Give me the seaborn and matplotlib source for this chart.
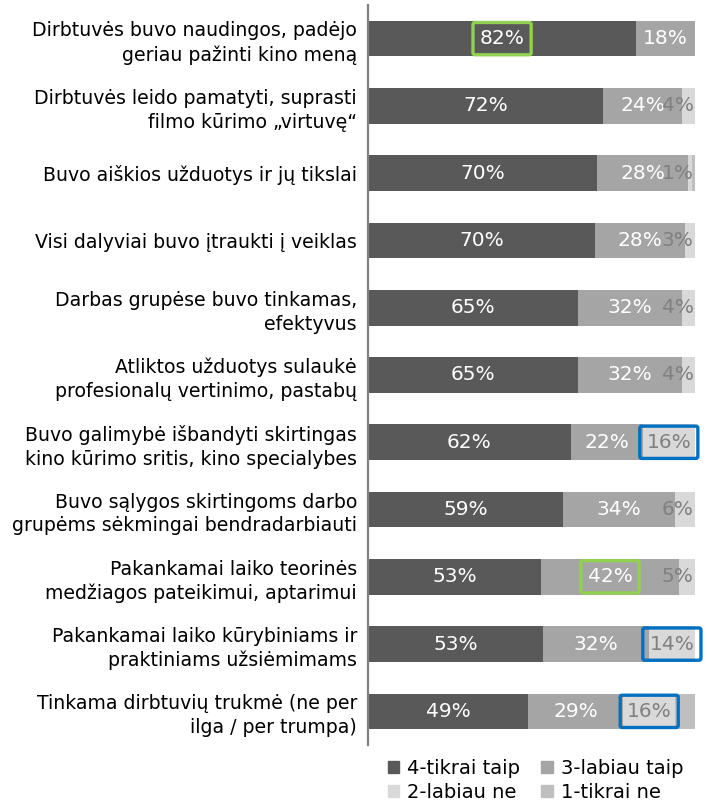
import numpy as np
import pandas as pd
import matplotlib
matplotlib.use("Agg")
import matplotlib.pyplot as plt
from matplotlib.patches import Patch
import seaborn as sns

categories = [
    "Dirbtuvės buvo naudingos, padėjo\ngeriau pažinti kino meną",
    "Dirbtuvės leido pamatyti, suprasti\nfilmo kūrimo „virtuvę“",
    "Buvo aiškios užduotys ir jų tikslai",
    "Visi dalyviai buvo įtraukti į veiklas",
    "Darbas grupėse buvo tinkamas,\nefektyvus",
    "Atliktos užduotys sulaukė\nprofesionalų vertinimo, pastabų",
    "Buvo galimybė išbandyti skirtingas\nkino kūrimo sritis, kino specialybes",
    "Buvo sąlygos skirtingoms darbo\ngrupėms sėkmingai bendradarbiauti",
    "Pakankamai laiko teorinės\nmedžiagos pateikimui, aptarimui",
    "Pakankamai laiko kūrybiniams ir\npraktiniams užsiėmimams",
    "Tinkama dirbtuvių trukmė (ne per\nilga / per trumpa)",
]
tikrai_taip = [82, 72, 70, 70, 65, 65, 62, 59, 53, 53, 49]
labiau_taip = [18, 24, 28, 28, 32, 32, 22, 34, 42, 32, 29]
labiau_ne = [0, 4, 1, 3, 4, 4, 16, 6, 5, 14, 16]
tikrai_ne = [0, 0, 1, 0, 0, 0, 0, 0, 0, 0, 6]
series_names = ["4-tikrai taip", "3-labiau taip", "2-labiau ne", "1-tikrai ne"]
colors = ["#595959", "#a5a5a5", "#d9d9d9", "#bfbfbf"]
# highlighted labels: (row, series index, edge colour)
highlights = [(0, 0, "#92d050"), (8, 1, "#92d050"),
              (6, 2, "#0070c0"), (9, 2, "#0070c0"), (10, 2, "#0070c0")]

vals = np.array([tikrai_taip, labiau_taip, labiau_ne, tikrai_ne], dtype=float)
totals = vals.sum(axis=0)
share = vals / totals * 100.0
cum = np.cumsum(share, axis=0)

plt.rcParams["font.family"] = ["DejaVu Sans"]
fig = plt.figure(figsize=(7.07, 8.02), dpi=100)
ax = fig.add_axes([368 / 707, 1 - 745 / 802, (695 - 368) / 707, (745 - 5) / 802])

# draw from the full stack backwards so each layer covers the next
for k in range(3, -1, -1):
    df = pd.DataFrame({"cat": categories, "val": cum[k]})
    sns.barplot(data=df, x="val", y="cat", orient="h", color=colors[k],
                saturation=1, width=0.53, ax=ax, edgecolor="none")

ax.set_xlim(0, 100)
ax.set_xlabel("")
ax.set_ylabel("")
ax.set_xticks([])
for s in ["top", "right", "bottom"]:
    ax.spines[s].set_visible(False)
ax.spines["left"].set_color("#808080")
ax.spines["left"].set_linewidth(1.6)
ax.tick_params(axis="y", length=0, pad=8, labelsize=13.6, labelcolor="#000000")
for t in ax.get_yticklabels():
    t.set_linespacing(1.32)

hl = {(r, k): c for r, k, c in highlights}
for r in range(len(categories)):
    for k in range(3):
        v = vals[k, r]
        if v <= 0:
            continue
        left = cum[k, r] - share[k, r]
        center = left + share[k, r] / 2
        txtcol = "white" if k < 2 else "#808080"
        ha = "center"
        x = center
        if k == 2 and center > 95:
            ha = "right"
            x = 99.6
        kw = {}
        if (r, k) in hl:
            kw["bbox"] = dict(boxstyle="round,pad=0.33,rounding_size=0.1",
                              fc="none", ec=hl[(r, k)], lw=2.4)
        ax.text(x, r, f"{int(v)}%", ha=ha, va="center", color=txtcol,
                fontsize=14.5, **kw)

handles = [Patch(color=colors[i], label=series_names[i]) for i in [0, 2, 1, 3]]
fig.legend(handles=handles, ncol=2, loc="upper left",
           bbox_to_anchor=(374 / 707, 1 - 745 / 802), frameon=False,
           fontsize=14, handlelength=0.6, handleheight=0.6,
           handletextpad=0.4, columnspacing=1.1, labelspacing=0.28,
           borderpad=0.2)

fig.savefig("out.png", dpi=100)
